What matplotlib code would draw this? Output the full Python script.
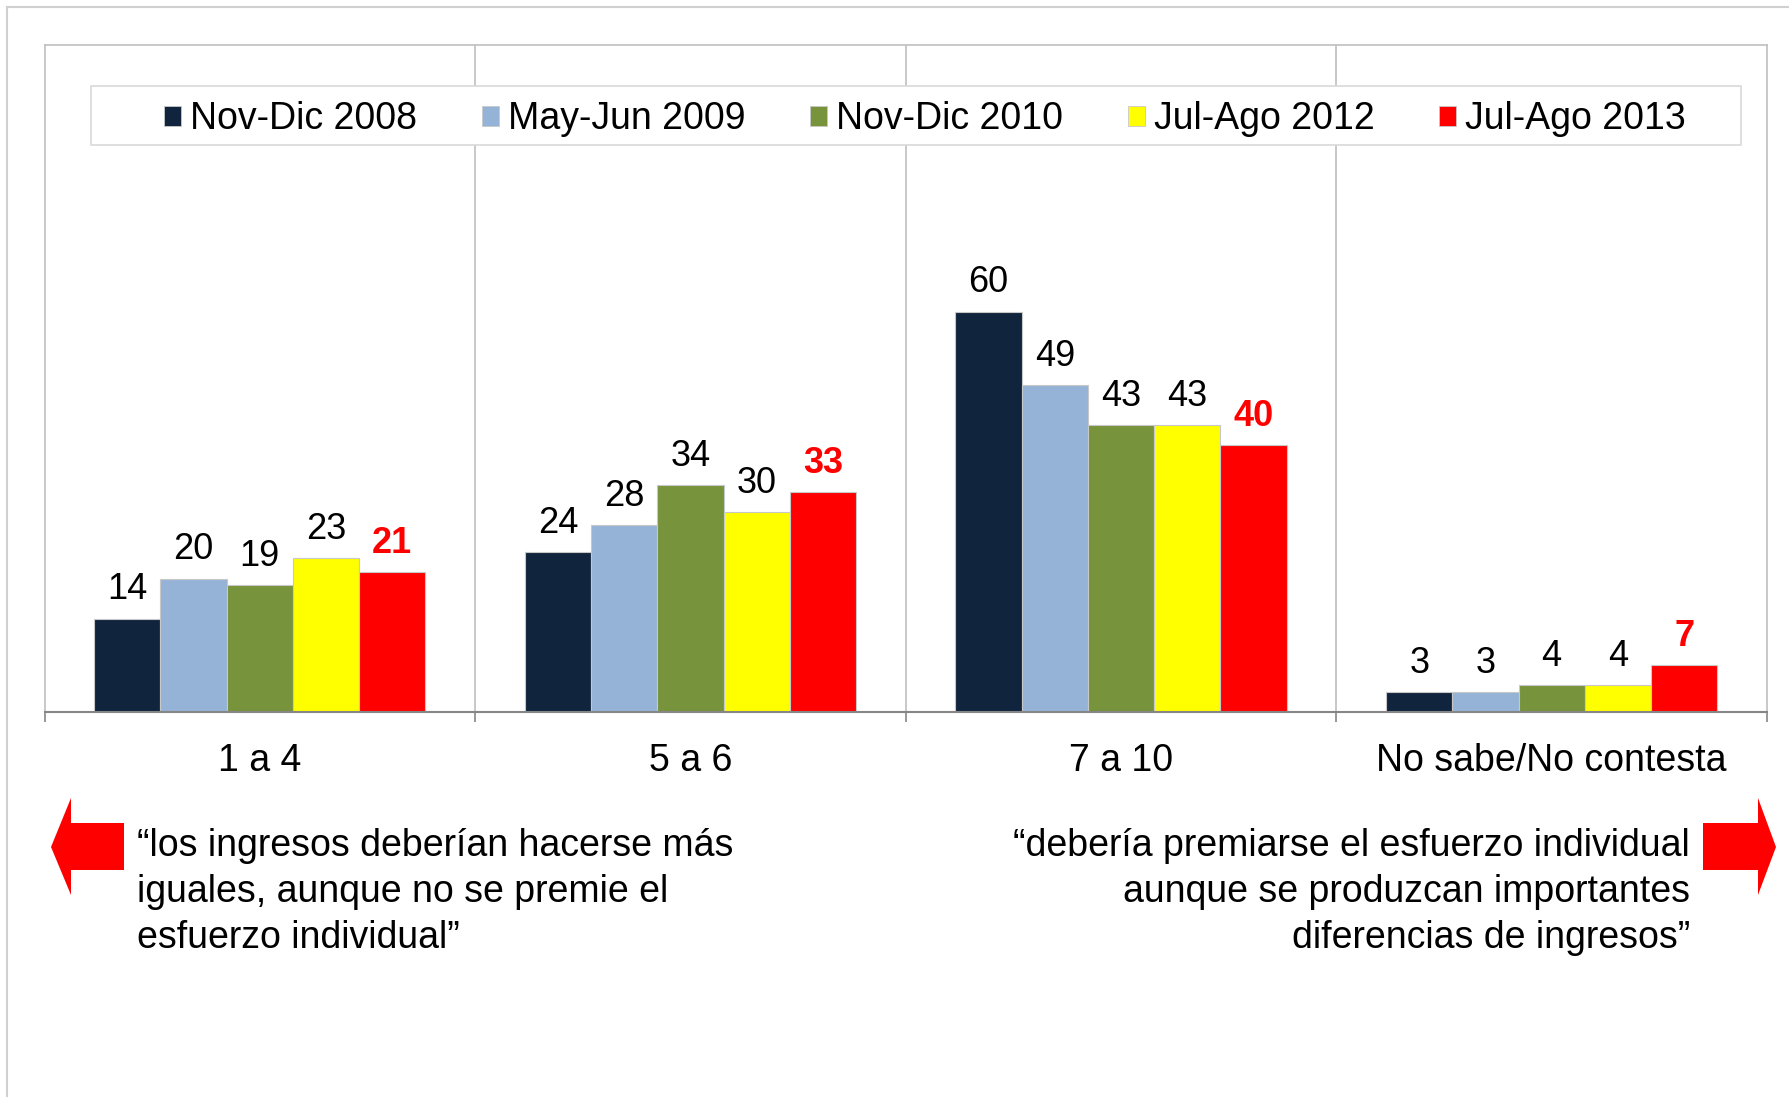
import numpy as np
import matplotlib
matplotlib.use("Agg")
import matplotlib.pyplot as plt
from matplotlib.patches import Rectangle, Polygon, Patch
from matplotlib.lines import Line2D

plt.rcParams['font.family'] = ['Liberation Sans', 'DejaVu Sans']

# datos
categorias = ["1 a 4", "5 a 6", "7 a 10", "No sabe/No contesta"]
series = ["Nov-Dic 2008", "May-Jun 2009", "Nov-Dic 2010", "Jul-Ago 2012", "Jul-Ago 2013"]
nov_dic_2008 = [14, 24, 60, 3]
may_jun_2009 = [20, 28, 49, 3]
nov_dic_2010 = [19, 34, 43, 4]
jul_ago_2012 = [23, 30, 43, 4]
jul_ago_2013 = [21, 33, 40, 7]
valores = [nov_dic_2008, may_jun_2009, nov_dic_2010, jul_ago_2012, jul_ago_2013]
colores = ["#10243E", "#95B3D7", "#77933C", "#FFFF00", "#FF0000"]

texto_izq = "\u201clos ingresos deberían hacerse más\niguales, aunque no se premie el\nesfuerzo individual\u201d"
texto_der = "\u201cdebería premiarse el esfuerzo individual\naunque se produzcan importantes\ndiferencias de ingresos\u201d"

W, H = 1790, 1097
fig = plt.figure(figsize=(W / 100, H / 100), dpi=100)


def fx(px):
    return px / W


def fy(py):
    return 1 - py / H


# marco exterior
fig.add_artist(Line2D([fx(7), fx(7)], [fy(7), 0], transform=fig.transFigure, color="#D0D0D0", lw=1.5))
fig.add_artist(Line2D([fx(7), 1], [fy(7), fy(7)], transform=fig.transFigure, color="#D0D0D0", lw=1.5))

ax = fig.add_axes([fx(44.5), fy(712), (1767 - 44.5) / W, (712 - 44.5) / H])

x = np.arange(len(categorias)) + 0.5
w = 1 / 6.5
for i, (vals, col) in enumerate(zip(valores, colores)):
    pos = x + (i - 2) * w
    ax.bar(pos, vals, width=w, color=col, edgecolor="#C8C8C8", linewidth=0.8, zorder=3)
    for p, v in zip(pos, vals):
        if i == 4:
            ax.annotate(str(v), (p, v), xytext=(0, 8), textcoords="offset points",
                        ha="center", va="bottom", fontsize=26, color="#FF0000", fontweight="bold")
        else:
            ax.annotate(str(v), (p, v), xytext=(0, 8), textcoords="offset points",
                        ha="center", va="bottom", fontsize=26, color="black")

ax.set_xlim(0, 4)
ax.set_ylim(0, 100)
for xv in [1, 2, 3]:
    ax.axvline(xv, color="#BFBFBF", lw=1.2, zorder=1)

for s in ["top", "right", "left"]:
    ax.spines[s].set_color("#BFBFBF")
    ax.spines[s].set_linewidth(1.2)
ax.spines["bottom"].set_color("#868686")
ax.spines["bottom"].set_linewidth(1.5)
ax.spines["bottom"].set_zorder(4)

ax.set_yticks([])
ax.set_xticks(x)
ax.set_xticklabels(categorias, fontsize=27)
ax.tick_params(axis="x", which="major", length=0, pad=22)
ax.set_xticks([0, 1, 2, 3, 4], minor=True)
ax.tick_params(axis="x", which="minor", length=7, width=1.2, color="#868686")

# leyenda
fig.add_artist(Rectangle((fx(91), fy(145)), (1741 - 91) / W, (145 - 86) / H,
                         transform=fig.transFigure, facecolor="white", edgecolor="#D9D9D9", lw=1.2))
handles = [Patch(facecolor=c, edgecolor="#C8C8C8", linewidth=0.6) for c in colores]
fig.legend(handles, series, loc="center", bbox_to_anchor=(fx(925), fy(119)), ncol=5,
           frameon=False, fontsize=27, handlelength=0.45, handleheight=0.45,
           handletextpad=0.25, columnspacing=1.72, borderpad=0)

# textos y flechas
fig.text(fx(137), fy(828.5), texto_izq, ha="left", va="top", fontsize=27, linespacing=1.35)
fig.text(fx(1690), fy(828.5), texto_der, ha="right", va="top", fontsize=27, linespacing=1.35,
         multialignment="right")

flecha_izq = [(51, 847), (71, 798), (71, 823), (124, 823), (124, 870), (71, 870), (71, 895)]
flecha_der = [(1776, 847), (1758, 798), (1758, 823), (1703, 823), (1703, 870), (1758, 870), (1758, 895)]
for pts in [flecha_izq, flecha_der]:
    fig.add_artist(Polygon([(fx(a), fy(b)) for a, b in pts], closed=True,
                           transform=fig.transFigure, facecolor="#FF0000", edgecolor="none"))

fig.savefig("out.png", dpi=100)
